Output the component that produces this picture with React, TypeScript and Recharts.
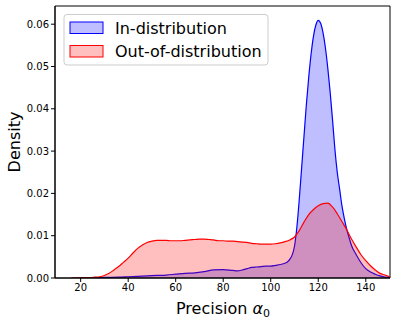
import React from 'react';
import { AreaChart, Area, XAxis, YAxis, ReferenceArea } from 'recharts';

// Out-of-distribution KDE (red)
const oodX = [16, 18, 20, 22, 24, 26, 28, 30, 32, 34, 36, 38, 40, 42, 44, 46, 48, 50, 52, 54, 56, 58, 60, 62, 64, 66, 68, 70, 72, 74, 76, 78, 80, 82, 84, 86, 88, 90, 92, 94, 96, 98, 100, 102, 104, 106, 108, 110, 112, 114, 116, 118, 120, 122, 124, 126, 128, 130, 132, 134, 136, 138, 140, 142, 144, 146, 148, 150];
const oodY = [0, 0.00003, 0.00005, 0.0001, 0.0001, 0.0002, 0.0003, 0.0006, 0.0011, 0.0019, 0.0027, 0.0037, 0.0047, 0.0059, 0.007, 0.0078, 0.0084, 0.0087, 0.0089, 0.0089, 0.0089, 0.0088, 0.0088, 0.0088, 0.0089, 0.009, 0.0091, 0.0092, 0.0092, 0.0091, 0.009, 0.0088, 0.0088, 0.0087, 0.0087, 0.0086, 0.0085, 0.0084, 0.0082, 0.0081, 0.008, 0.008, 0.008, 0.0081, 0.0083, 0.0086, 0.009, 0.0097, 0.0112, 0.0132, 0.015, 0.0162, 0.0171, 0.0176, 0.0177, 0.0168, 0.0152, 0.0133, 0.0114, 0.0092, 0.0073, 0.0055, 0.0041, 0.0029, 0.0019, 0.0011, 0.0007, 0.0003];

// In-distribution KDE (blue)
const indX = [20, 24, 28, 32, 36, 40, 44, 48, 52, 56, 60, 64, 68, 72, 76, 80, 84, 86, 88, 90, 92, 94, 96, 98, 100, 102, 104, 106, 107, 108, 109, 110, 111, 112, 113, 114, 115, 116, 117, 118, 119, 120, 121, 122, 123, 124, 125, 126, 127, 128, 129, 130, 131, 132, 133, 134, 136, 138, 140, 142, 144, 146, 148, 150];
const indY = [0, 0.00005, 0.0001, 0.00015, 0.0002, 0.0003, 0.0004, 0.0005, 0.0006, 0.0007, 0.0009, 0.0011, 0.0012, 0.0015, 0.0019, 0.002, 0.0018, 0.0017, 0.0019, 0.0022, 0.0025, 0.0026, 0.0027, 0.0028, 0.0028, 0.003, 0.0032, 0.0035, 0.0038, 0.0044, 0.0054, 0.0075, 0.012, 0.0185, 0.026, 0.0335, 0.041, 0.0475, 0.053, 0.0572, 0.0598, 0.0609, 0.0602, 0.058, 0.0545, 0.0497, 0.044, 0.0375, 0.0305, 0.025, 0.021, 0.017, 0.014, 0.0115, 0.0095, 0.0077, 0.0055, 0.0036, 0.0022, 0.0014, 0.0009, 0.0005, 0.0002, 0.0001];

const xTicks = [20, 40, 60, 80, 100, 120, 140];
const yTicks = [0, 0.01, 0.02, 0.03, 0.04, 0.05, 0.06];
const seriesNames = ['In-distribution', 'Out-of-distribution'];
const xLabel = 'Precision ';
const yLabel = 'Density';

const X_DOMAIN: [number, number] = [9.2, 150.2];
const Y_DOMAIN: [number, number] = [0, 0.0643];

const indData = indX.map((x, i) => ({ x, y: indY[i] }));
const oodData = oodX.map((x, i) => ({ x, y: oodY[i] }));

const FONT = '"DejaVu Sans", sans-serif';

export default function App() {
  return (
    <div style={{ position: 'absolute', left: 0, top: 0, width: 397, height: 325, background: '#fff', fontFamily: FONT }}>
      <AreaChart width={397} height={325} margin={{ top: 6, right: 7, bottom: 0, left: 0 }}>
        <XAxis
          dataKey="x"
          type="number"
          domain={X_DOMAIN}
          ticks={xTicks}
          allowDataOverflow
          height={47}
          tickSize={4}
          stroke="#000"
          tick={{ fontSize: 10, fill: '#000', fontFamily: FONT }}
          tickLine={{ stroke: '#000' }}
        />
        <YAxis
          type="number"
          domain={Y_DOMAIN}
          ticks={yTicks}
          allowDataOverflow
          width={55}
          tickSize={4}
          stroke="#000"
          tickFormatter={(v: number) => v.toFixed(2)}
          tick={{ fontSize: 10, fill: '#000', fontFamily: FONT }}
        />
        <Area
          data={indData}
          dataKey="y"
          type="monotone"
          stroke="#0000ff"
          strokeWidth={1.2}
          fill="#0000ff"
          fillOpacity={0.25}
          isAnimationActive={false}
          dot={false}
          activeDot={false}
        />
        <Area
          data={oodData}
          dataKey="y"
          type="monotone"
          stroke="#ff0000"
          strokeWidth={1.2}
          fill="#ff0000"
          fillOpacity={0.25}
          isAnimationActive={false}
          dot={false}
          activeDot={false}
        />
        <ReferenceArea
          x1={X_DOMAIN[0]}
          x2={X_DOMAIN[1]}
          y1={Y_DOMAIN[0]}
          y2={Y_DOMAIN[1]}
          fill="none"
          fillOpacity={0}
          stroke="#000"
          strokeWidth={1}
          ifOverflow="visible"
        />
      </AreaChart>
      <svg width={397} height={325} style={{ position: 'absolute', left: 0, top: 0, pointerEvents: 'none' }}>
        <text x={223} y={314} textAnchor="middle" fontSize={16} fontFamily={FONT} fill="#000">
          {xLabel}
          <tspan fontStyle="italic">α</tspan>
          <tspan fontSize={11} dy={3}>0</tspan>
        </text>
        <text x={19.5} y={142} textAnchor="middle" fontSize={16} fontFamily={FONT} fill="#000" transform="rotate(-90 19.5 142)">
          {yLabel}
        </text>
        <rect x={64} y={14.5} width={204} height={50.5} rx={3} fill="#fff" fillOpacity={0.8} stroke="#cccccc" strokeWidth={1} />
        <rect x={70} y={22} width={33} height={11.5} fill="#0000ff" fillOpacity={0.25} stroke="#0000ff" strokeWidth={1} />
        <rect x={70} y={45.5} width={33} height={11.5} fill="#ff0000" fillOpacity={0.25} stroke="#ff0000" strokeWidth={1} />
        <text x={115} y={33.5} fontSize={16} fontFamily={FONT} fill="#000">{seriesNames[0]}</text>
        <text x={115} y={57} fontSize={16} fontFamily={FONT} fill="#000">{seriesNames[1]}</text>
      </svg>
    </div>
  );
}
